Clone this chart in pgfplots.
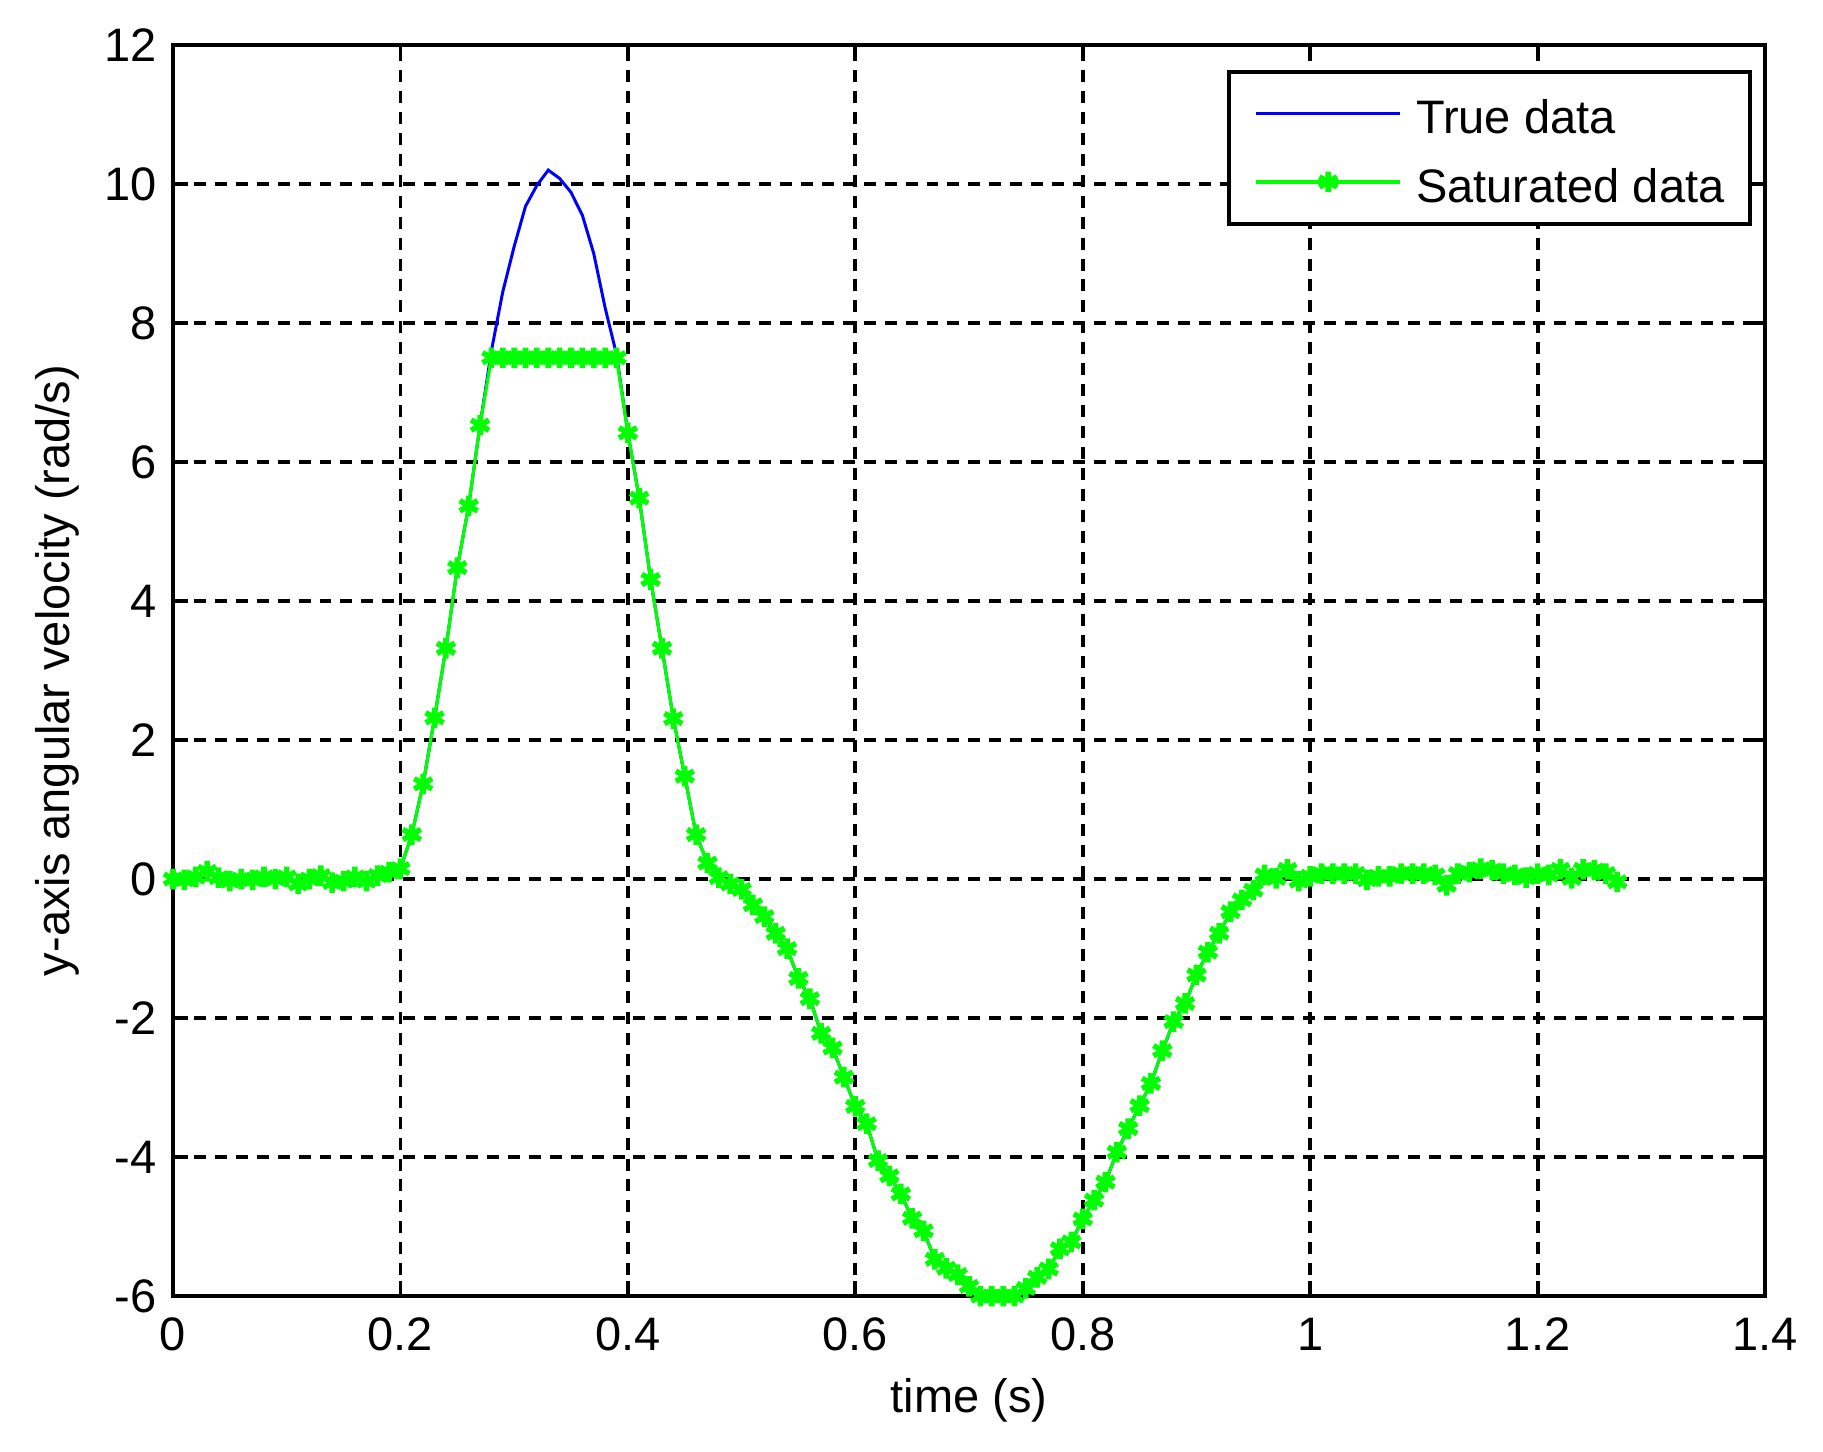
\documentclass[border=0pt]{standalone}
\usepackage{fontspec}
\setmainfont{Liberation Sans}
\usepackage{pgfplots}
\usepackage{pgfplotstable}
\pgfplotsset{compat=1.18}

\definecolor{trueblue}{RGB}{0,0,255}
\definecolor{satgreen}{RGB}{0,255,0}

% t, true data, saturated data (rad/s)
\pgfplotstableread{
t     tru    sat
0.00  0.00   0.00
0.01  -0.01  -0.01
0.02  0.03   0.03
0.03  0.11   0.11
0.04  0.02   0.02
0.05  -0.03  -0.03
0.06  0.00   0.00
0.07  -0.01  -0.01
0.08  0.03   0.03
0.09  0.00   0.00
0.10  0.03   0.03
0.11  -0.07  -0.07
0.12  0.00   0.00
0.13  0.05   0.05
0.14  -0.05  -0.05
0.15  -0.03  -0.03
0.16  0.03   0.03
0.17  -0.03  -0.03
0.18  0.05   0.05
0.19  0.10   0.10
0.20  0.15   0.15
0.21  0.64   0.64
0.22  1.37   1.37
0.23  2.32   2.32
0.24  3.32   3.32
0.25  4.48   4.48
0.26  5.37   5.37
0.27  6.53   6.53
0.28  7.60   7.50
0.29  8.45   7.50
0.30  9.10   7.50
0.31  9.68   7.50
0.32  9.98   7.50
0.33  10.20  7.50
0.34  10.08  7.50
0.35  9.88   7.50
0.36  9.55   7.50
0.37  9.00   7.50
0.38  8.22   7.50
0.39  7.55   7.50
0.40  6.42   6.42
0.41  5.48   5.48
0.42  4.31   4.31
0.43  3.32   3.32
0.44  2.31   2.31
0.45  1.48   1.48
0.46  0.64   0.64
0.47  0.23   0.23
0.48  0.02   0.02
0.49  -0.07  -0.07
0.50  -0.15  -0.15
0.51  -0.37  -0.37
0.52  -0.54  -0.54
0.53  -0.78  -0.78
0.54  -1.00  -1.00
0.55  -1.43  -1.43
0.56  -1.72  -1.72
0.57  -2.22  -2.22
0.58  -2.43  -2.43
0.59  -2.85  -2.85
0.60  -3.27  -3.27
0.61  -3.52  -3.52
0.62  -4.05  -4.05
0.63  -4.27  -4.27
0.64  -4.53  -4.53
0.65  -4.88  -4.88
0.66  -5.06  -5.06
0.67  -5.47  -5.47
0.68  -5.60  -5.60
0.69  -5.69  -5.69
0.70  -5.86  -5.86
0.71  -6.00  -6.00
0.72  -6.00  -6.00
0.73  -6.00  -6.00
0.74  -6.00  -6.00
0.75  -5.89  -5.89
0.76  -5.73  -5.73
0.77  -5.61  -5.61
0.78  -5.32  -5.32
0.79  -5.22  -5.22
0.80  -4.89  -4.89
0.81  -4.62  -4.62
0.82  -4.36  -4.36
0.83  -3.93  -3.93
0.84  -3.59  -3.59
0.85  -3.26  -3.26
0.86  -2.94  -2.94
0.87  -2.47  -2.47
0.88  -2.05  -2.05
0.89  -1.79  -1.79
0.90  -1.38  -1.38
0.91  -1.05  -1.05
0.92  -0.78  -0.78
0.93  -0.47  -0.47
0.94  -0.30  -0.30
0.95  -0.16  -0.16
0.96  0.06   0.06
0.97  0.01   0.01
0.98  0.14   0.14
0.99  -0.03  -0.03
1.00  0.04   0.04
1.01  0.08   0.08
1.02  0.08   0.08
1.03  0.08   0.08
1.04  0.08   0.08
1.05  -0.01  -0.01
1.06  0.04   0.04
1.07  0.04   0.04
1.08  0.08   0.08
1.09  0.08   0.08
1.10  0.08   0.08
1.11  0.06   0.06
1.12  -0.09  -0.09
1.13  0.08   0.08
1.14  0.10   0.10
1.15  0.15   0.15
1.16  0.13   0.13
1.17  0.08   0.08
1.18  0.06   0.06
1.19  0.02   0.02
1.20  0.08   0.08
1.21  0.06   0.06
1.22  0.14   0.14
1.23  0.01   0.01
1.24  0.14   0.14
1.25  0.13   0.13
1.26  0.08   0.08
1.27  -0.04  -0.04
}\velocitydata

\begin{document}
\fontsize{11pt}{13pt}\selectfont
\begin{tikzpicture}
\begin{axis}[
  name=ax,
  scale only axis,
  width=13.099cm,
  height=10.294cm,
  xmin=0, xmax=1.4,
  ymin=-6, ymax=12,
  xtick={0,0.2,0.4,0.6,0.8,1,1.2,1.4},
  ytick={-6,-4,-2,0,2,4,6,8,10,12},
  /pgf/number format/assume math mode=true,
  tick label style={font=\fontsize{11pt}{13pt}\selectfont},
  xticklabel style={inner sep=0pt, anchor=north, yshift=-4.9pt},
  yticklabel style={inner sep=0pt, anchor=east, xshift=-3.7pt},
  tick align=inside,
  major tick length=3.5pt,
  tick style={black, line width=0.9pt},
  axis line style={black, line width=0.9pt},
  grid=major,
  major grid style={black, line width=0.9pt, dash pattern=on 2.8pt off 2.1pt},
  xlabel={time (s)},
  ylabel={y-axis angular velocity (rad/s)},
  label style={font=\fontsize{11pt}{13pt}\selectfont},
  xlabel style={at={(axis description cs:0.5,-0.083)}, anchor=center},
  ylabel style={at={(axis description cs:-0.0729,0.5)}, anchor=center},
  legend cell align=left,
  legend image code/.code={%
    \draw[mark repeat=2, mark phase=2, #1]
      plot coordinates {(0pt,0pt) (16.9pt,0pt) (33.8pt,0pt)};},
  legend style={at={(rel axis cs:0.9918,0.980)}, anchor=north east,
    draw=black, line width=0.9pt, fill=white,
    inner xsep=6pt, inner ysep=4.5pt, row sep=5.5pt,
    /tikz/column sep=3.3pt,
    font=\fontsize{11pt}{13pt}\selectfont,
    nodes={inner sep=0pt, text height=10pt, text depth=0.5pt, anchor=west}},
]
\addplot[trueblue, line width=0.7pt] table[x=t, y=tru] {\velocitydata};
\addlegendentry{True data}
\addplot[satgreen, line width=0.75pt, mark=asterisk, mark size=2.4pt,
  mark options={line width=1.3pt, solid}] table[x=t, y=sat] {\velocitydata};
\addlegendentry{Saturated data}
\end{axis}
\path (ax.south west) ++(-1.4235cm,-1.2754cm);
\path (ax.north east) ++(0.4772cm,0.3703cm);
\end{tikzpicture}
\end{document}
